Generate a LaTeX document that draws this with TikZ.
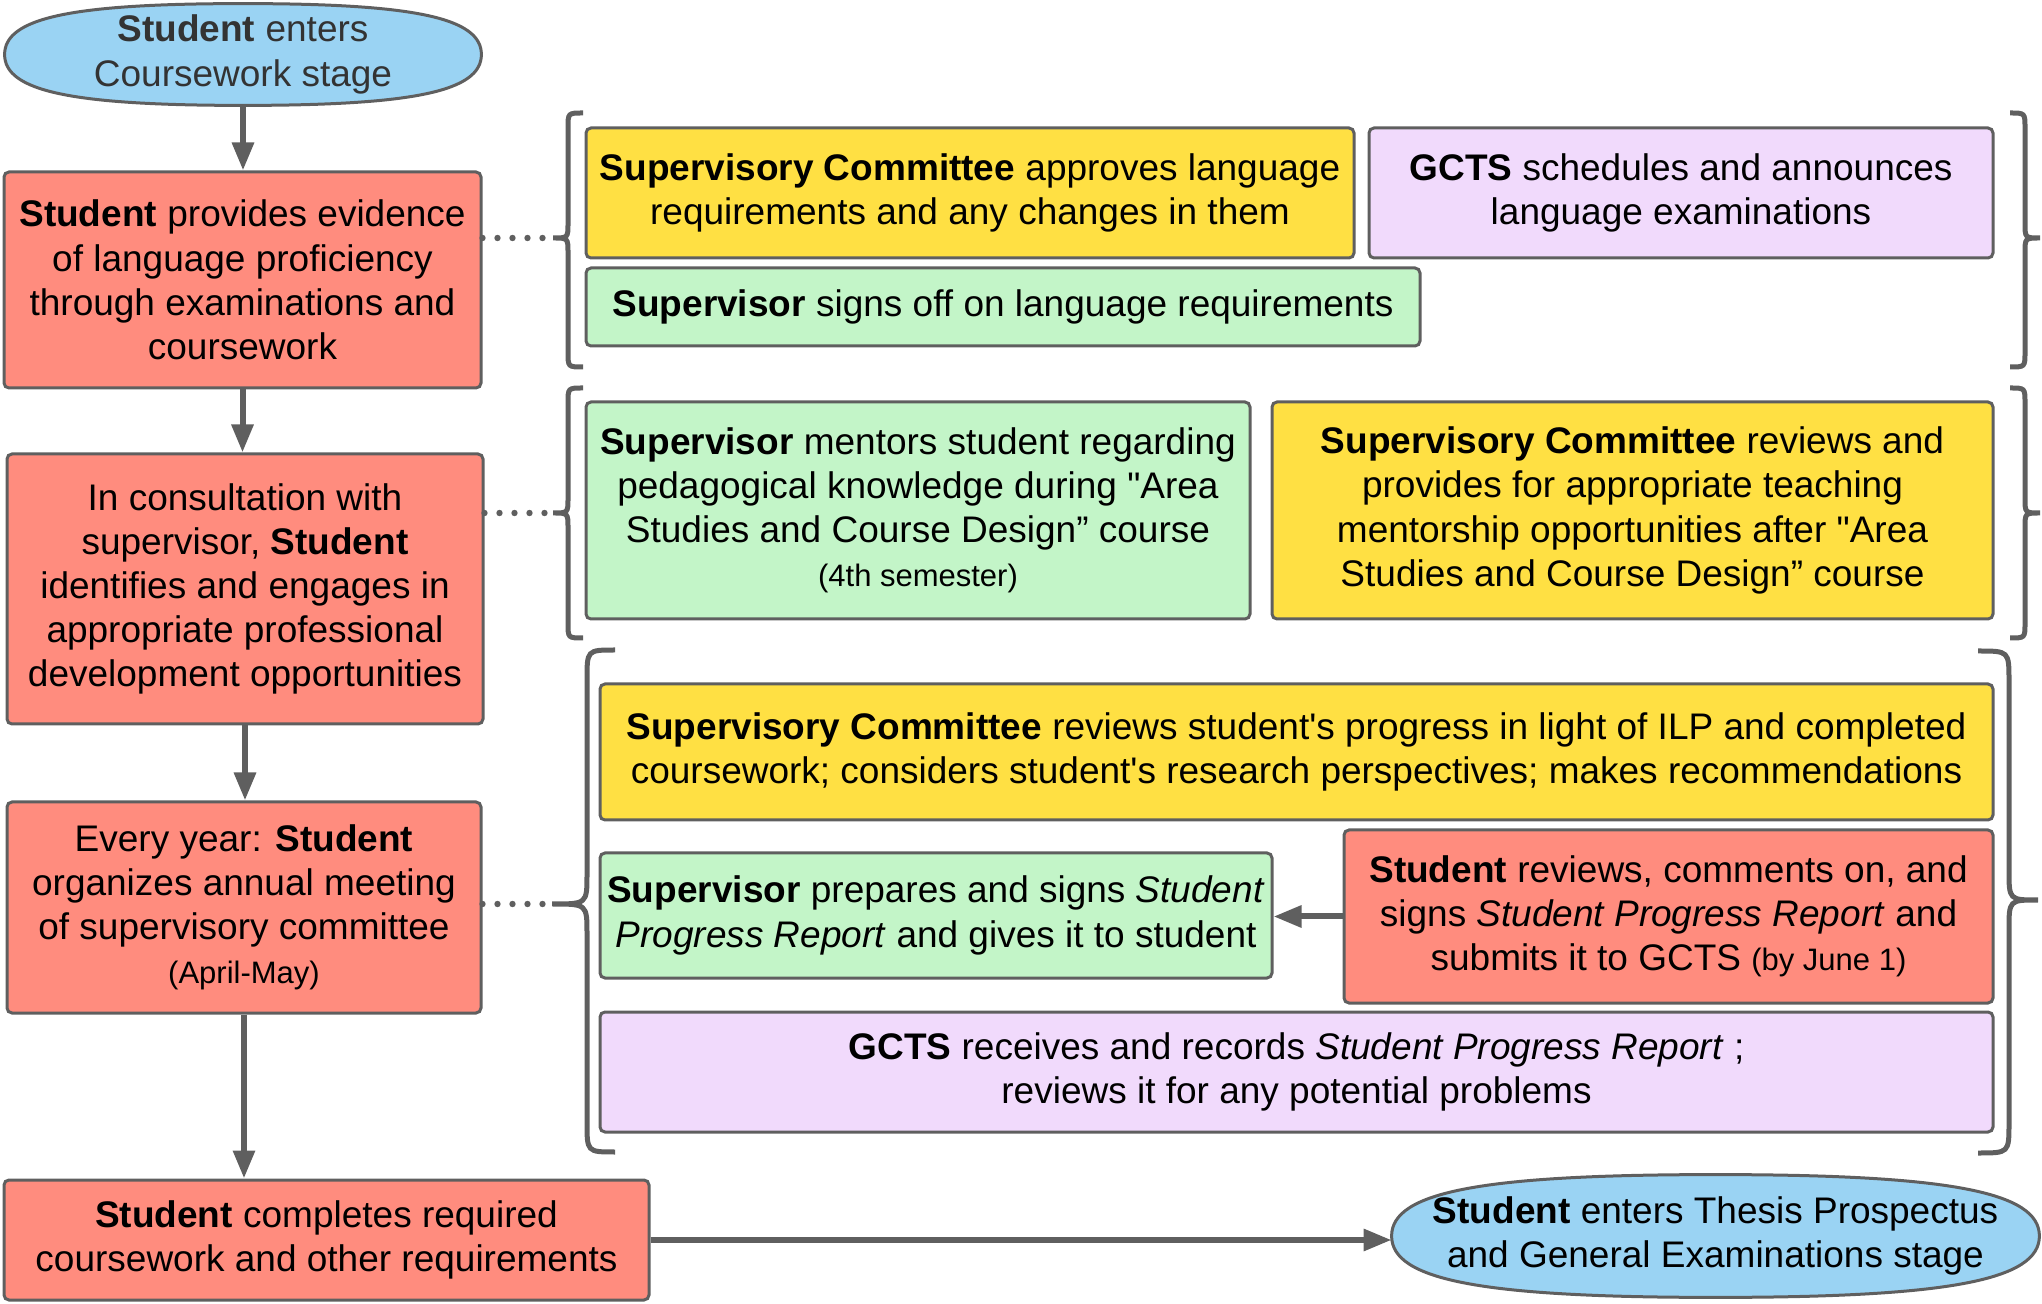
\documentclass[tikz,border=0pt]{standalone}
\usepackage{fontspec}
\newfontfamily\lsans{Liberation Sans}
\usetikzlibrary{arrows.meta,calc}
\definecolor{lc}{HTML}{5F5F5F}
\definecolor{cblue}{HTML}{9AD3F3}
\definecolor{cred}{HTML}{FF8C7E}
\definecolor{cyel}{HTML}{FFE043}
\definecolor{cpur}{HTML}{F1DAFC}
\definecolor{cgrn}{HTML}{C3F5C8}
\newcommand\smalltxt{\fontsize{15.5}{19}\selectfont}
\tikzset{
  txt/.style={align=center, inner sep=0pt, font=\lsans\fontsize{18.5}{22.1}\selectfont, text=black},
  base/.style={txt, draw=lc, line width=1.5pt, rounded corners=2.5pt},
  redbox/.style={base, fill=cred},
  yelbox/.style={base, fill=cyel},
  purbox/.style={base, fill=cpur},
  grnbox/.style={base, fill=cgrn},
  ellbox/.style={rectangle, draw=none, inner sep=0pt},
  ellpath/.style={draw=lc, line width=1.5pt, fill=cblue},
  sz/.style 2 args={minimum width=#1, minimum height=#2},
  arr/.style={draw=lc, line width=3pt, -{Triangle[length=14pt,width=10.5pt]}},
  dotln/.style={draw=lc, line width=3.2pt, line cap=round, dash pattern=on 0pt off 7.5pt},
  brc/.style={draw=lc, line width=2.5pt}
}
\newcommand\mybrace[7]{%
  \draw[brc] (#1,#4) .. controls (#2,#4) .. (#2,{#4+#7}) -- (#2,{#5-#7})
    .. controls (#2,#5) .. (#3,#5) .. controls (#2,#5) .. (#2,{#5+#7})
    -- (#2,{#6-#7}) .. controls (#2,#6) .. (#1,#6);}
\def\kk{0.72}
\newcommand\superell[1]{%
  \path[ellpath] (#1.east)
    .. controls ($(#1.east)!\kk!(#1.north east)$) and ($(#1.north)!\kk!(#1.north east)$) .. (#1.north)
    .. controls ($(#1.north)!\kk!(#1.north west)$) and ($(#1.west)!\kk!(#1.north west)$) .. (#1.west)
    .. controls ($(#1.west)!\kk!(#1.south west)$) and ($(#1.south)!\kk!(#1.south west)$) .. (#1.south)
    .. controls ($(#1.south)!\kk!(#1.south east)$) and ($(#1.east)!\kk!(#1.south east)$) .. (#1.east) -- cycle;}
\begin{document}
\begin{tikzpicture}[x=0.5pt,y=-0.5pt]
\useasboundingbox (0,0) rectangle (2042,1304);
% left column
\node[ellbox, sz={238pt}{50.5pt}] (e1) at (243,54.5) {};
\superell{e1}
\node[txt, text=black!80] at (e1) {\textbf{Student} enters\\Coursework stage};
\node[redbox, sz={238.5pt}{108pt}] (b1) at (242.5,280) {\textbf{Student} provides evidence\\of language proficiency\\through examinations and\\coursework};
\node[redbox, sz={238pt}{135pt}] (b2) at (245,589) {In consultation with\\supervisor, \textbf{Student}\\identifies and engages in\\appropriate professional\\development opportunities};
\node[redbox, sz={237pt}{105.5pt}] (b3) at (244,907.5) {Every year: \textbf{Student}\\organizes annual meeting\\of supervisory committee\\{\smalltxt (April-May)}};
\node[redbox, sz={322.5pt}{60pt}] (b4) at (326.5,1240) {\textbf{Student} completes required\\coursework and other requirements};
\node[ellbox, sz={323.5pt}{61pt}] (e2) at (1715.5,1236) {};
\superell{e2}
\node[txt] at (e2) {\textbf{Student} enters Thesis Prospectus\\and General Examinations stage};
% group 1
\node[yelbox, sz={384pt}{65pt}] (A) at (970,193) {\textbf{Supervisory Committee} approves language\\requirements and any changes in them};
\node[purbox, sz={312pt}{65pt}] (B) at (1681,193) {\textbf{GCTS} schedules and announces\\language examinations};
\node[grnbox, sz={417pt}{39pt}] (C) at (1003,307) {\textbf{Supervisor} signs off on language requirements};
% group 2
\node[grnbox, sz={332pt}{108.5pt}] (D) at (918,510.5) {\textbf{Supervisor} mentors student regarding\\pedagogical knowledge during "Area\\Studies and Course Design” course\\{\smalltxt (4th semester)}};
\node[yelbox, sz={360.5pt}{108.5pt}] (E) at (1632.5,510.5) {\textbf{Supervisory Committee} reviews and\\provides for appropriate teaching\\mentorship opportunities after "Area\\Studies and Course Design” course};
% group 3
\node[yelbox, sz={696.5pt}{68pt}] (F) at (1296.5,752) {\textbf{Supervisory Committee} reviews student's progress in light of ILP and completed\\coursework; considers student's research perspectives; makes recommendations};
\node[grnbox, sz={336pt}{62.5pt}] (G) at (936,915.5) {\textbf{Supervisor} prepares and signs \textit{Student}\\\textit{Progress Report} and gives it to student};
\node[redbox, sz={324.5pt}{86.5pt}] (H) at (1668.5,916.5) {\textbf{Student} reviews, comments on, and\\signs \textit{Student Progress Report} and\\submits it to GCTS {\smalltxt (by June 1)}};
\node[purbox, sz={696.5pt}{60pt}] (I) at (1296.5,1072) {\textbf{GCTS} receives and records \textit{Student Progress Report} ;\\reviews it for any potential problems};
% braces
\mybrace{583}{568}{553}{113}{238}{367}{15}
\mybrace{2010}{2025}{2040}{113}{238}{367}{15}
\mybrace{583}{568}{553}{388}{513}{638}{15}
\mybrace{2010}{2025}{2040}{388}{513}{638}{15}
\mybrace{615}{587}{552}{650}{904}{1152}{30}
\mybrace{1978}{2009}{2038}{651}{900}{1153}{30}
\coordinate (t1) at (553,238);
\coordinate (t2) at (553,513);
\coordinate (t3) at (552,904);
% connectors
\draw[arr] (e1.south) -- (e1.south |- b1.north);
\draw[arr] (b1.south) -- (b1.south |- b2.north);
\draw[arr] (b2.south) -- (b2.south |- b3.north);
\draw[arr] (b3.south) -- (b3.south |- b4.north);
\draw[arr] (b4.east) -- (b4.east -| e2.west);
\draw[arr] (H.west) -- (H.west -| G.east);
\draw[dotln] (b1.east |- t1) -- (t1);
\draw[dotln] (b2.east |- t2) -- (t2);
\draw[dotln] (b3.east |- t3) -- (t3);
\end{tikzpicture}
\end{document}
